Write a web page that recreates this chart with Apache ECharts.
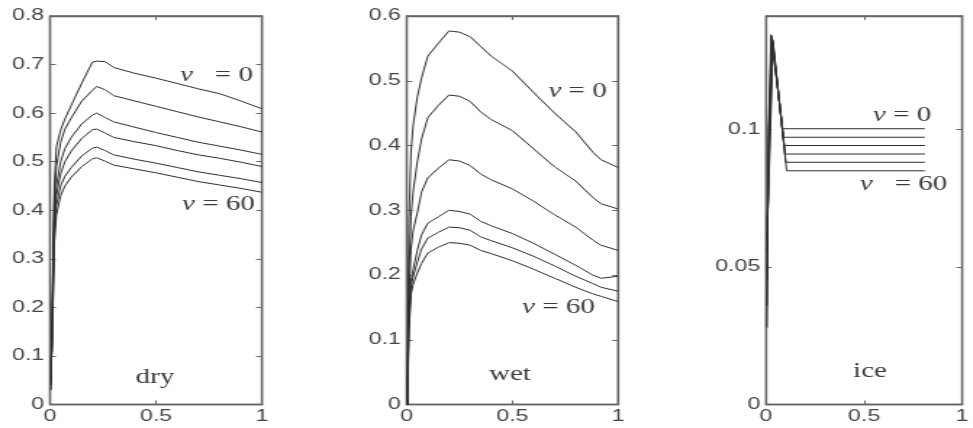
<!DOCTYPE html>
<html>
<head>
<meta charset="utf-8">
<script src="https://cdn.jsdelivr.net/npm/echarts@6/dist/echarts.min.js"></script>
<style>
html,body{margin:0;padding:0;background:#fff;overflow:hidden;width:973px;height:428px;}
#wrap{width:973px;height:428px;overflow:hidden;position:relative;}
#c{width:671px;height:428px;transform:scaleX(1.45);transform-origin:0 0;position:absolute;left:0;top:0;}
</style>
</head>
<body>
<div id="wrap"><div id="c"></div></div>
<script>
// ---- dry ----
var dryX  = [0.005,0.01,0.02,0.03,0.05,0.07,0.1,0.15,0.2,0.22,0.26,0.3,0.4,0.5,0.6,0.7,0.8,0.9,1.0];
var dryV1 = [0.03,0.20,0.45,0.53,0.565,0.588,0.616,0.662,0.705,0.707,0.706,0.694,0.682,0.672,0.661,0.650,0.640,0.625,0.609];
var dryV2 = [0.04,0.18,0.42,0.49,0.54,0.567,0.59,0.625,0.647,0.655,0.648,0.636,0.625,0.614,0.603,0.592,0.582,0.572,0.561];
var dryV3 = [0.05,0.16,0.39,0.45,0.50,0.527,0.55,0.578,0.596,0.600,0.591,0.582,0.571,0.560,0.550,0.540,0.532,0.524,0.515];
var dryV4 = [0.07,0.15,0.37,0.43,0.475,0.50,0.522,0.548,0.566,0.567,0.559,0.550,0.541,0.533,0.523,0.514,0.507,0.499,0.490];
var dryV5 = [0.08,0.13,0.35,0.41,0.45,0.47,0.488,0.512,0.528,0.530,0.523,0.514,0.505,0.497,0.488,0.479,0.472,0.465,0.457];
var dryV6 = [0.09,0.12,0.33,0.39,0.43,0.45,0.468,0.49,0.506,0.508,0.501,0.493,0.485,0.477,0.468,0.459,0.452,0.445,0.437];
// ---- wet ----
var wetX  = [0.003,0.006,0.01,0.02,0.03,0.05,0.07,0.1,0.15,0.2,0.25,0.3,0.35,0.4,0.5,0.6,0.7,0.8,0.88,0.92,1.0];
var wetV1 = [0.0,0.12,0.28,0.39,0.43,0.475,0.504,0.538,0.558,0.577,0.575,0.568,0.553,0.538,0.515,0.482,0.450,0.421,0.390,0.378,0.366];
var wetV2 = [0.0,0.09,0.20,0.29,0.328,0.375,0.41,0.443,0.462,0.478,0.476,0.468,0.452,0.440,0.423,0.395,0.367,0.345,0.320,0.310,0.302];
var wetV3 = [0.0,0.07,0.16,0.24,0.268,0.296,0.328,0.35,0.365,0.378,0.376,0.369,0.356,0.347,0.333,0.314,0.293,0.274,0.254,0.246,0.238];
var wetV4 = [0.0,0.06,0.13,0.19,0.208,0.238,0.262,0.28,0.29,0.300,0.298,0.294,0.283,0.276,0.264,0.249,0.232,0.215,0.200,0.195,0.198];
var wetV5 = [0.0,0.05,0.12,0.18,0.197,0.22,0.24,0.257,0.266,0.274,0.273,0.269,0.259,0.253,0.242,0.229,0.214,0.198,0.187,0.181,0.175];
var wetV6 = [0.0,0.04,0.11,0.17,0.185,0.203,0.218,0.234,0.243,0.250,0.249,0.246,0.238,0.233,0.222,0.209,0.195,0.181,0.171,0.167,0.159];
// ---- ice ([x, y] pairs) ----
var iceC1 = [[0.005,0.028],[0.012,0.100],[0.026,0.1345],[0.085,0.1003],[0.81,0.1003]];
var iceC2 = [[0.005,0.036],[0.012,0.095],[0.028,0.1340],[0.089,0.0972],[0.81,0.0972]];
var iceC3 = [[0.005,0.045],[0.012,0.090],[0.030,0.1335],[0.093,0.0942],[0.81,0.0942]];
var iceC4 = [[0.005,0.055],[0.012,0.085],[0.032,0.1330],[0.097,0.0911],[0.81,0.0911]];
var iceC5 = [[0.005,0.060],[0.012,0.080],[0.034,0.1325],[0.101,0.0881],[0.81,0.0881]];
var iceC6 = [[0.005,0.066],[0.012,0.075],[0.036,0.1320],[0.105,0.0850],[0.81,0.0850]];
// ---- axes ----
var xTicks = [0,0.5,1];
var dryYMax = 0.8, wetYMax = 0.6, iceYMax = 0.1413;
var dryYStep = 0.1, wetYStep = 0.1, iceYStep = 0.05;

function pairs(xs, ys){ return xs.map(function(x, k){ return [x, ys[k]]; }); }

var panels = [
  {curves: [dryV1,dryV2,dryV3,dryV4,dryV5,dryV6].map(function(v){ return pairs(dryX, v); }),
   max: dryYMax, step: dryYStep, left: 34.5, width: 146.2},
  {curves: [wetV1,wetV2,wetV3,wetV4,wetV5,wetV6].map(function(v){ return pairs(wetX, v); }),
   max: wetYMax, step: wetYStep, left: 280.5, width: 145.7},
  {curves: [iceC1,iceC2,iceC3,iceC4,iceC5,iceC6],
   max: iceYMax, step: iceYStep, left: 528.3, width: 143.4}
];

var axisCol = '#666666';
var labelStyle = {fontFamily: 'Liberation Sans, Arial, sans-serif', fontSize: 16, color: '#454545'};
function mkLine(){ return {show: true, onZero: false, lineStyle: {color: axisCol, width: 1.3}}; }
function mkTick(){ return {show: true, inside: true, length: 4, lineStyle: {color: axisCol, width: 1}}; }
var grids = [], xAxes = [], yAxes = [], series = [];
panels.forEach(function(p, i){
  grids.push({left: p.left, width: p.width, top: 16, height: 388.5, show: true,
    borderColor: axisCol, borderWidth: 1.3, backgroundColor: 'transparent'});
  xAxes.push({type: 'value', gridIndex: i, min: 0, max: 1, interval: xTicks[1] - xTicks[0], position: 'bottom',
    axisLine: mkLine(), axisTick: mkTick(), splitLine: {show: false},
    axisLabel: Object.assign({margin: 4}, labelStyle)});
  xAxes.push({type: 'value', gridIndex: i, min: 0, max: 1, interval: xTicks[1] - xTicks[0], position: 'top',
    axisLine: mkLine(), axisTick: mkTick(), splitLine: {show: false}, axisLabel: {show: false}});
  yAxes.push({type: 'value', gridIndex: i, min: 0, max: p.max, interval: p.step, position: 'left',
    axisLine: mkLine(), axisTick: mkTick(), splitLine: {show: false},
    axisLabel: Object.assign({margin: 4, showMaxLabel: p.max === iceYMax ? false : true}, labelStyle)});
  yAxes.push({type: 'value', gridIndex: i, min: 0, max: p.max, interval: p.step, position: 'right',
    axisLine: mkLine(), axisTick: mkTick(), splitLine: {show: false}, axisLabel: {show: false}});
  p.curves.forEach(function(c){
    series.push({type: 'line', xAxisIndex: 2*i, yAxisIndex: 2*i, showSymbol: false, silent: true,
      lineStyle: {color: '#2e2e2e', width: 1}, data: c});
  });
});

function label(x, y, t){
  return {type: 'text', x: x, y: y, silent: true, style: {
    text: t, fontFamily: 'Liberation Serif, Times New Roman, serif', fontSize: 20, fill: '#3a3a3a',
    align: 'center', verticalAlign: 'middle',
    rich: {i: {fontStyle: 'italic', fontFamily: 'Liberation Serif, Times New Roman, serif', fontSize: 20, fill: '#3a3a3a'}}
  }};
}

var chart = echarts.init(document.getElementById('c'), null, {renderer: 'canvas'});
chart.setOption({
  animation: false,
  grid: grids, xAxis: xAxes, yAxis: yAxes, series: series,
  graphic: [
    label(149.3, 76, '{i|v}   = 0'),
    label(150.7, 205, '{i|v} = 60'),
    label(106.9, 378, 'dry'),
    label(398.3, 92, '{i|v} = 0'),
    label(385.2, 308, '{i|v} = 60'),
    label(351.7, 375, 'wet'),
    label(622.1, 116, '{i|v} = 0'),
    label(623.1, 185, '{i|v}   = 60'),
    label(600, 372, 'ice')
  ]
});
</script>
</body>
</html>
